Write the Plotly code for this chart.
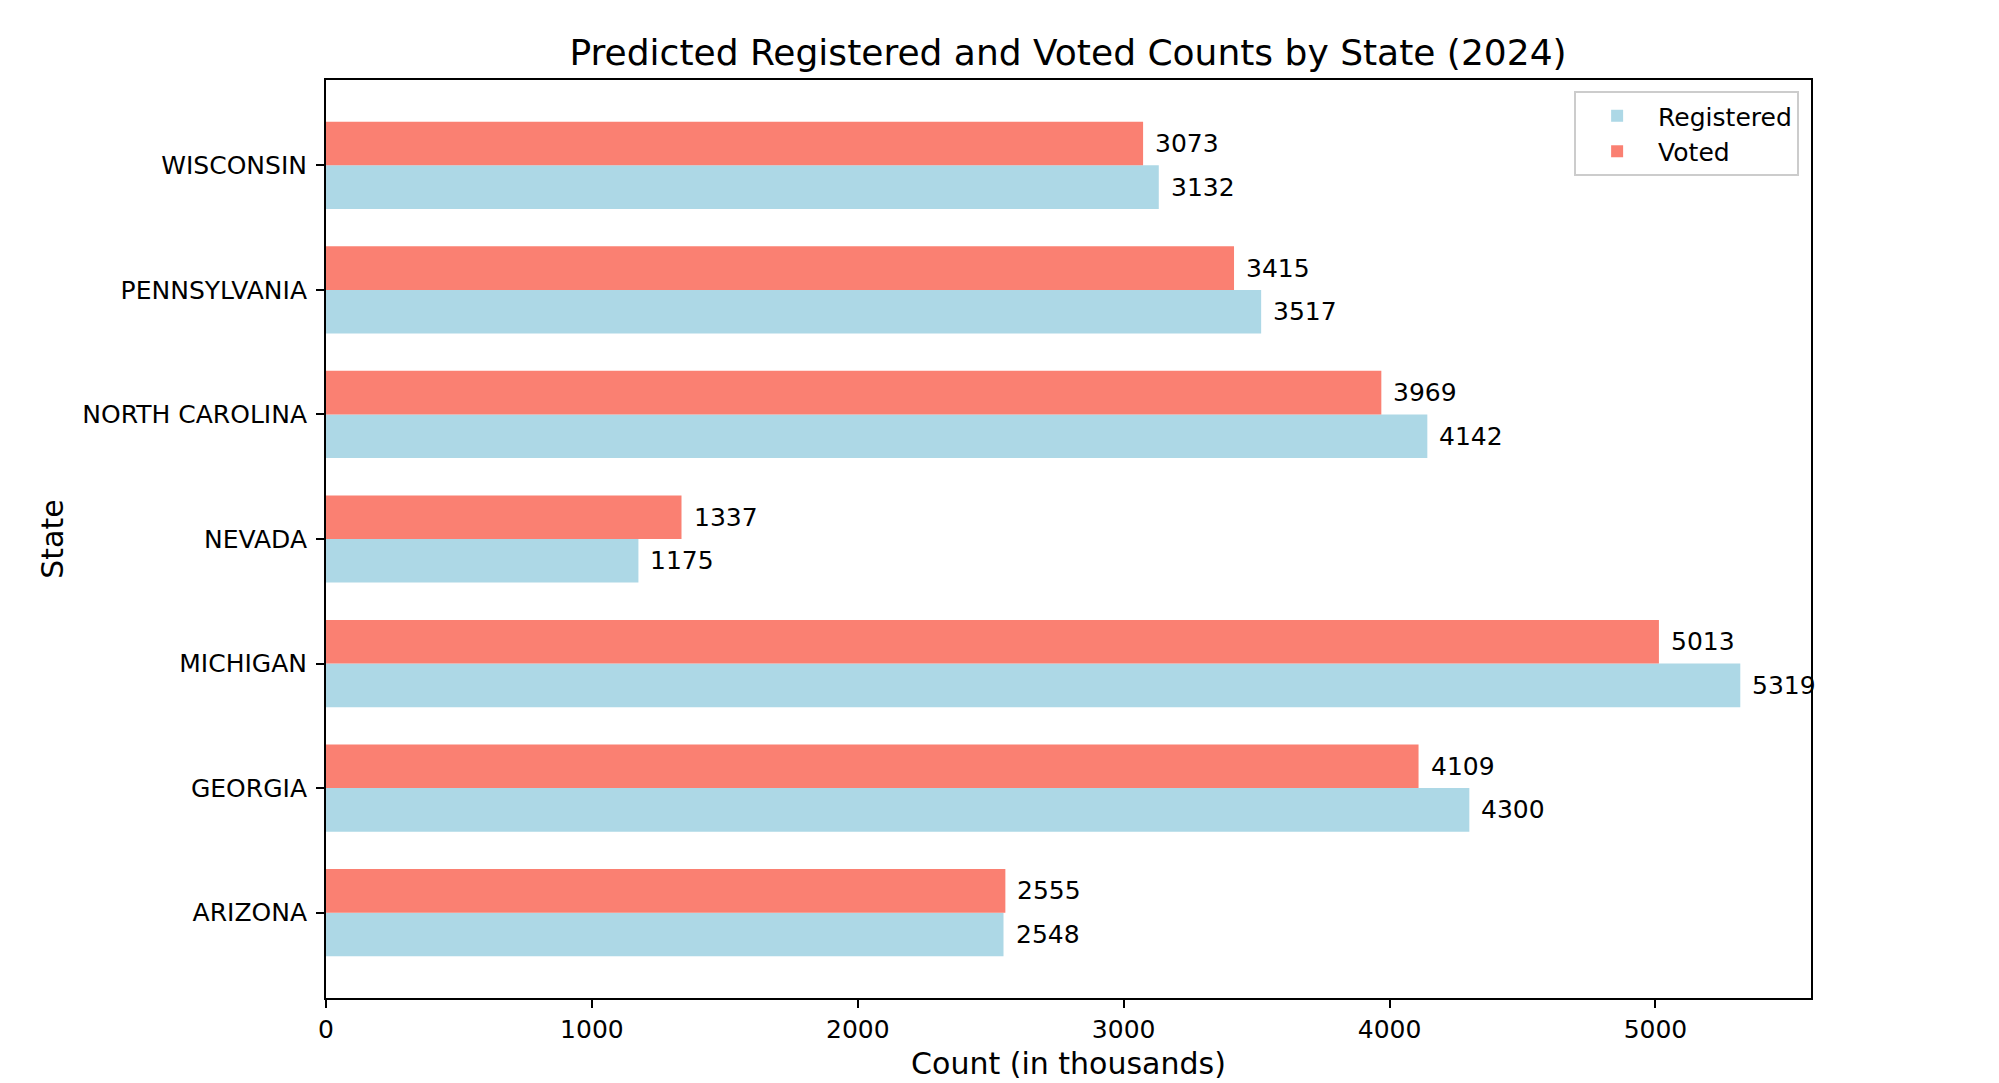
import plotly.graph_objects as go

states = ["ARIZONA", "GEORGIA", "MICHIGAN", "NEVADA", "NORTH CAROLINA", "PENNSYLVANIA", "WISCONSIN"]
registered = [2548, 4300, 5319, 1175, 4142, 3517, 3132]
voted = [2555, 4109, 5013, 1337, 3969, 3415, 3073]
x_ticks = [0, 1000, 2000, 3000, 4000, 5000]

BAR_H = 0.35
FONT = "DejaVu Sans"
BASE = 25
idx = list(range(len(states)))
y_reg = [i - BAR_H / 2 for i in idx]
y_vot = [i + BAR_H / 2 for i in idx]

fig = go.Figure()
fig.add_trace(go.Bar(
    name="Registered", orientation="h", x=registered, y=y_reg, width=BAR_H,
    marker=dict(color="#ADD8E6", line=dict(width=0)), legendgroup="reg",
))
fig.add_trace(go.Bar(
    name="Voted", orientation="h", x=voted, y=y_vot, width=BAR_H,
    marker=dict(color="#FA8072", line=dict(width=0)), legendgroup="vot",
))

annotations = []
for vals, ys in ((registered, y_reg), (voted, y_vot)):
    for v, yy in zip(vals, ys):
        annotations.append(dict(
            x=v, y=yy, xref="x", yref="y", text=str(v), showarrow=False,
            xanchor="left", yanchor="middle", xshift=10,
            font=dict(family=FONT, size=BASE, color="#000000"),
        ))

xmax = max(registered + voted) * 1.05
span = len(states) - 1 + 2 * BAR_H
ymin = -BAR_H - span * 0.05
ymax = len(states) - 1 + BAR_H + span * 0.05

fig.update_layout(
    width=1999, height=1083,
    margin=dict(l=318, r=196, t=72, b=93, pad=0),
    paper_bgcolor="white", plot_bgcolor="white",
    barmode="overlay",
    font=dict(family=FONT, size=BASE, color="#000000"),
    title=dict(
        text="Predicted Registered and Voted Counts by State (2024)",
        x=0.5303, xanchor="center", y=1 - 44 / 1083, yanchor="middle",
        yref="container", font=dict(family=FONT, size=36, color="#000000"),
    ),
    xaxis=dict(
        range=[0, xmax], tickvals=x_ticks, ticktext=[str(t) for t in x_ticks],
        showgrid=False, zeroline=False,
        showline=True, linecolor="#000000", linewidth=2, mirror=True,
        ticks="outside", ticklen=8, tickwidth=2, tickcolor="#000000",
        tickfont=dict(family=FONT, size=BASE, color="#000000"),
        title=dict(text="Count (in thousands)", standoff=10,
                   font=dict(family=FONT, size=30, color="#000000")),
    ),
    yaxis=dict(
        range=[ymin, ymax], tickvals=idx, ticktext=states,
        showgrid=False, zeroline=False,
        showline=True, linecolor="#000000", linewidth=2, mirror=True,
        ticks="outside", ticklen=8, tickwidth=2, tickcolor="#000000",
        ticklabelstandoff=4,
        tickfont=dict(family=FONT, size=BASE, color="#000000"),
        title=dict(text="State", standoff=10,
                   font=dict(family=FONT, size=30, color="#000000")),
    ),
    legend=dict(
        x=0.992, y=0.988, xanchor="right", yanchor="top",
        bgcolor="rgba(255,255,255,0.8)", bordercolor="#CCCCCC", borderwidth=2,
        font=dict(family=FONT, size=BASE, color="#000000"),
        traceorder="normal", itemwidth=72, tracegroupgap=6,
    ),
    annotations=annotations,
)

fig.write_html("out.html")
